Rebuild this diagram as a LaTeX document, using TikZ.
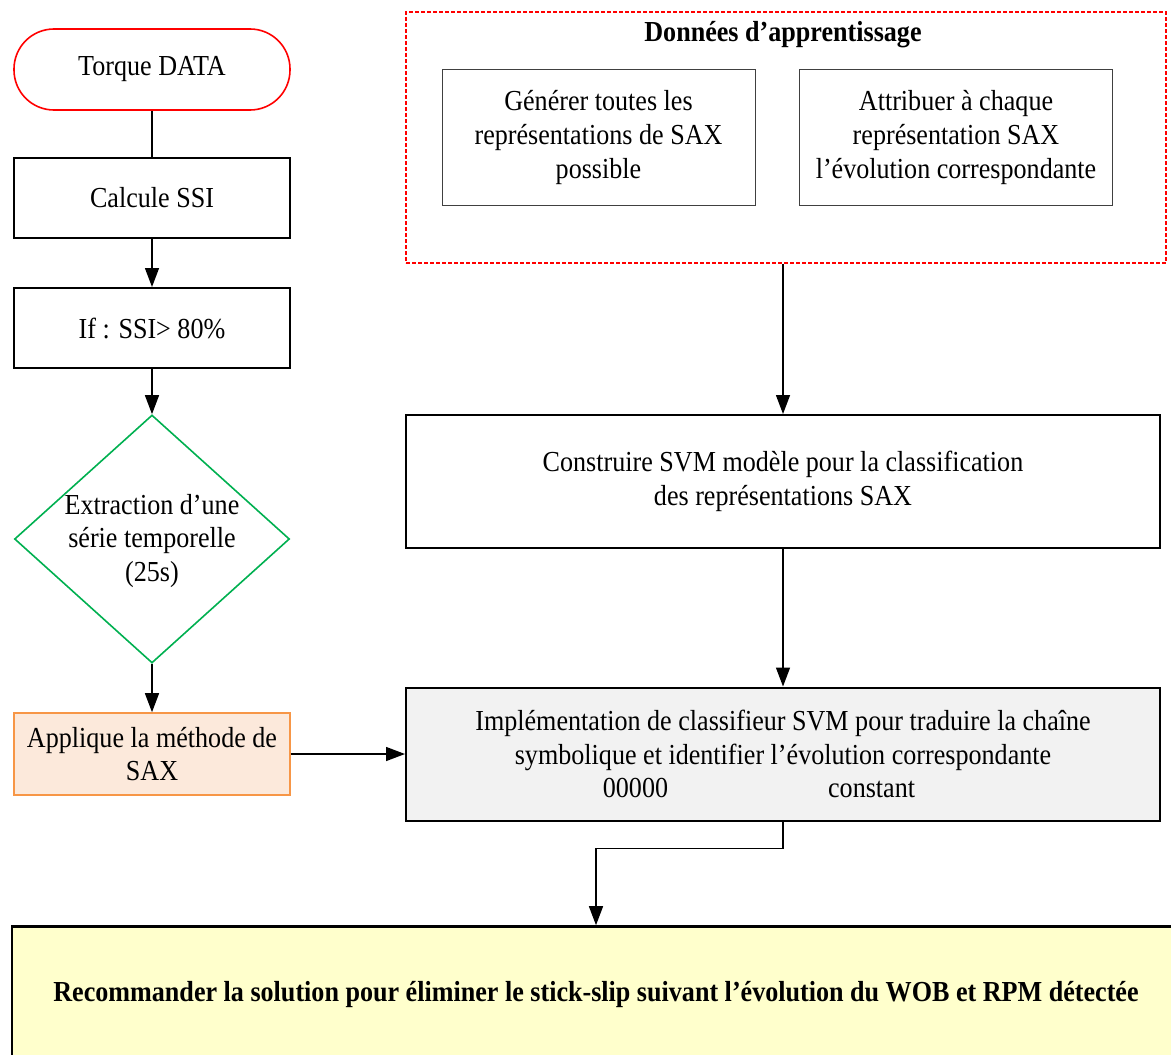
\documentclass[tikz,border=0pt]{standalone}
\usepackage{fontspec}
\setmainfont[FakeStretch=0.9]{Liberation Serif}
\usetikzlibrary{shapes.geometric, arrows.meta, positioning, calc}

\definecolor{termred}{HTML}{FF0000}
\definecolor{decgreen}{HTML}{00B050}
\definecolor{saxorange}{HTML}{F79646}
\definecolor{saxfill}{HTML}{FCE9DB}
\definecolor{implgrey}{HTML}{F2F2F2}
\definecolor{recofill}{HTML}{FFFFCC}

\begin{document}
\begin{tikzpicture}[
    x=0.5pt, y=-0.5pt,
    font=\fontsize{14.5}{16.8}\selectfont,
    term/.style={draw=termred, line width=0.8pt, rounded corners=20pt, minimum width=138pt, minimum height=40.5pt, align=center},
    box/.style={draw, line width=1pt, minimum width=138pt, minimum height=40pt, align=center},
    decision/.style={draw=decgreen, line width=0.8pt, diamond, minimum width=137.5pt, minimum height=124pt, inner sep=0pt},
    saxbox/.style={draw=saxorange, fill=saxfill, line width=0.8pt, minimum width=138pt, minimum height=41pt, align=center},
    trainbox/.style={draw=termred, line width=0.9pt, dash pattern=on 2pt off 1pt, minimum width=380pt, minimum height=125.5pt},
    subbox/.style={draw=black!75, line width=0.5pt, minimum width=156.5pt, minimum height=67.5pt, align=center},
    wide/.style={draw, line width=1pt, minimum width=377pt, minimum height=66.5pt, align=center},
    final/.style={draw, line width=1.3pt, fill=recofill, minimum width=584pt, minimum height=67.5pt, align=center},
    arr/.style={-{Triangle[length=9.5pt, width=7pt]}, line width=0.7pt},
]
\clip (0,0) rectangle (1171,1054);

% Left column: torque data down to SAX
\node[term] (torque) at (152,69.5) {Torque DATA};
\node[box] (ssi) at (152,198) {Calcule SSI};
\node[box] (cond) at (152,328) {If : SSI> 80\%};
\node[decision] (extr) at (152,539) {};
\node[align=center] (extrtext) at (152,541) {Extraction d’une\\série temporelle\\(25s)};
\node[saxbox] (sax) at (152,754) {Applique la méthode de\\SAX};

% Training data
\node[trainbox] (train) at (786,137.5) {};
\node[font=\fontsize{14.5}{16.8}\selectfont\bfseries] (traintitle) at (783,35) {Données d’apprentissage};
\node[subbox] (gen) at (598.5,137.5) {Générer toutes les\\représentations de SAX\\possible};
\node[subbox] (attr) at (956,137.5) {Attribuer à chaque\\représentation SAX\\l’évolution correspondante};

% SVM model and classifier
\node[wide] (constr) at (783,481.5) {Construire SVM modèle pour la classification\\des représentations SAX};
\node[wide, fill=implgrey] (impl) at (783,754) {Implémentation de classifieur SVM pour traduire la chaîne\\symbolique et identifier l’évolution correspondante\\00000\hspace{80pt}constant\hspace*{24pt}};

% Recommendation
\node[final] (reco) at (596,994) {\bfseries Recommander la solution pour éliminer le stick-slip suivant l’évolution du WOB et RPM détectée};

% Links
\draw[line width=0.7pt] (torque) -- (ssi);
\foreach \a/\b in {ssi/cond, cond/extr, extr/sax, sax/impl, constr/impl}
    \draw[arr] (\a) -- (\b);
\draw[arr] (train.south -| constr) -- (constr);
\draw[arr] (impl.south) -- ++(0,27) -| (reco.north);
\end{tikzpicture}
\end{document}
